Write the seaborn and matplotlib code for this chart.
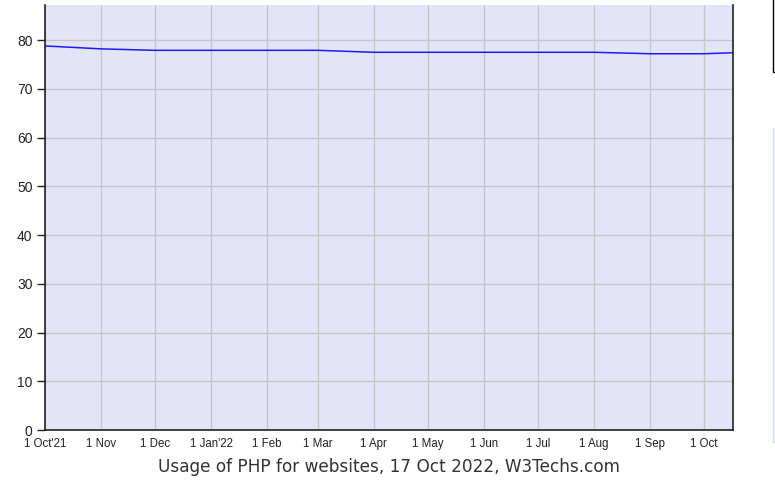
import pandas as pd
import matplotlib
matplotlib.use("Agg")
import matplotlib.pyplot as plt
from matplotlib.patches import Rectangle
import seaborn as sns

# data (monthly points, % of websites using PHP)
dates = ["2021-10-01", "2021-11-01", "2021-12-01", "2022-01-01", "2022-02-01",
         "2022-03-01", "2022-04-01", "2022-05-01", "2022-06-01", "2022-07-01",
         "2022-08-01", "2022-09-01", "2022-10-01", "2022-10-17"]
usage = [78.8, 78.2, 77.9, 77.9, 77.9, 77.9, 77.5, 77.5, 77.5, 77.5,
         77.5, 77.2, 77.2, 77.4]
tick_dates = ["2021-10-01", "2021-11-01", "2021-12-01", "2022-01-01", "2022-02-01",
              "2022-03-01", "2022-04-01", "2022-05-01", "2022-06-01", "2022-07-01",
              "2022-08-01", "2022-09-01", "2022-10-01"]
tick_labels = ["1 Oct'21", "1 Nov", "1 Dec", "1 Jan'22", "1 Feb", "1 Mar", "1 Apr",
               "1 May", "1 Jun", "1 Jul", "1 Aug", "1 Sep", "1 Oct"]
y_ticks = [0, 10, 20, 30, 40, 50, 60, 70, 80]
title = "Usage of PHP for websites, 17 Oct 2022, W3Techs.com"

df = pd.DataFrame({"date": pd.to_datetime(dates), "usage": usage})

sns.set_style("white")
plt.rcParams['font.family'] = ['Liberation Sans', 'DejaVu Sans']

fig = plt.figure(figsize=(7.75, 4.8), dpi=100)
ax = fig.add_axes([45 / 775, 50 / 480, 688 / 775, 425 / 480])
ax.set_facecolor("#e4e4f8")

sns.lineplot(data=df, x="date", y="usage", ax=ax, color="#1a1aff", linewidth=1.1)

ax.set_xlim(pd.Timestamp("2021-10-01"), pd.Timestamp("2022-10-17"))
ax.set_ylim(0, 87.2)
ax.set_xticks(pd.to_datetime(tick_dates))
ax.set_xticklabels(tick_labels, fontsize=8.3, color="#222222")
ax.set_yticks(y_ticks)
ax.set_yticklabels([str(v) for v in y_ticks], fontsize=10, color="#222222")
ax.grid(True, color="#c6c6c6", linewidth=1)
ax.set_axisbelow(True)
ax.tick_params(axis="y", left=True, length=6, width=1, color="#222222", pad=3)
ax.tick_params(axis="x", bottom=False, pad=2)
ax.set_xlabel(title, fontsize=12.2, family="DejaVu Sans", color="#333333", labelpad=6)
ax.set_ylabel("")

for side in ["left", "bottom", "right"]:
    ax.spines[side].set_color("#222222")
    ax.spines[side].set_linewidth(1.2)
ax.spines["top"].set_visible(False)

# page elements cut off at the right edge of the screenshot
fig.patches.append(Rectangle((773 / 775, 408 / 480), 10 / 775, 80 / 480,
                             transform=fig.transFigure, facecolor="white",
                             edgecolor="black", linewidth=1))
fig.patches.append(Rectangle((773 / 775, 38 / 480), 10 / 775, 314 / 480,
                             transform=fig.transFigure, facecolor="#eef3fe",
                             edgecolor="#d4e0f8", linewidth=1))

fig.savefig("out.png", dpi=100)
